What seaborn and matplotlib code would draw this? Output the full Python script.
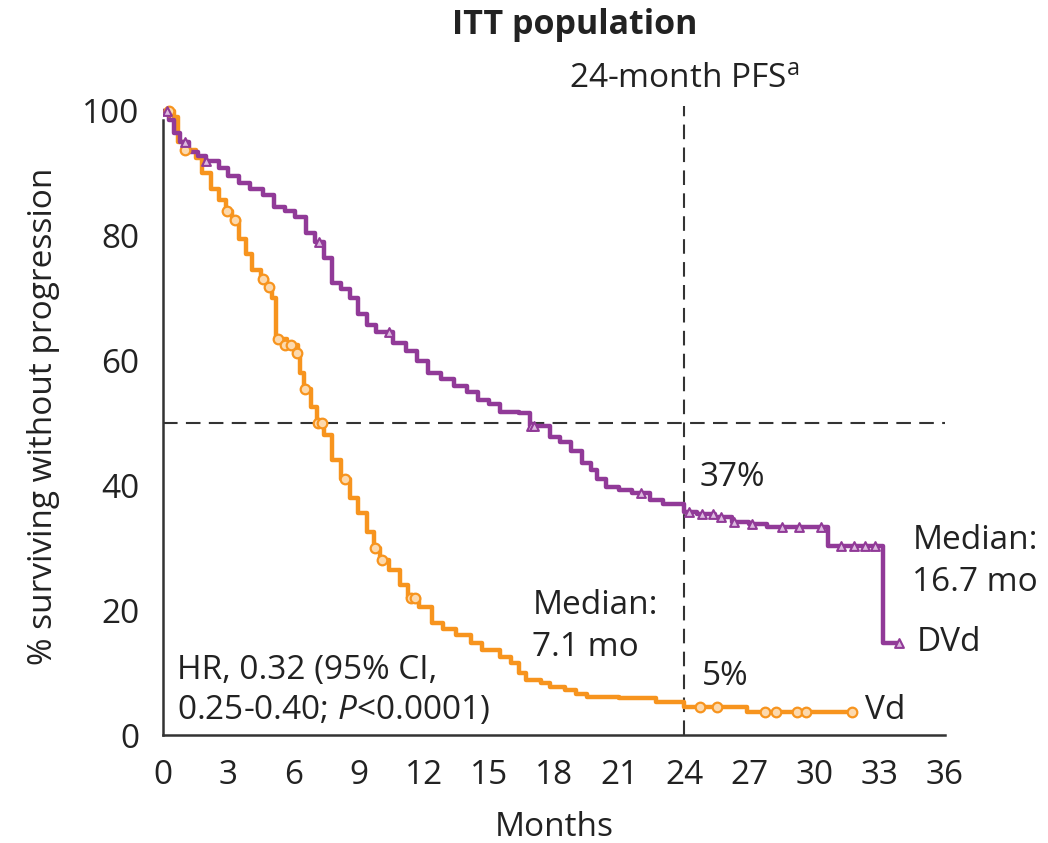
import matplotlib
matplotlib.use("Agg")
import matplotlib.pyplot as plt
import seaborn as sns
import pandas as pd

# ---------------- data ----------------
vd_time = [0, 0.5, 0.7, 1.1, 1.5, 1.8, 2.2, 2.6, 2.9, 3.2, 3.5, 3.8, 4.1, 4.5, 4.8, 5.0, 5.2, 5.7, 6.2, 6.3,
           6.5, 6.8, 7.1, 7.4, 7.8, 8.2, 8.6, 9.0, 9.4, 9.7, 10.0, 10.4, 10.9, 11.3, 11.8, 12.4, 12.9, 13.5,
           14.2, 14.7, 15.5, 16.0, 16.4, 16.7, 17.4, 17.8, 18.5, 19.0, 19.5, 21.0, 22.7, 24.0, 26.9, 31.7]
vd_surv = [100, 99, 95, 93.7, 92.5, 90, 87.5, 85.7, 84, 82.5, 79.5, 77, 74.5, 73, 71.8, 70, 63.5, 62.5, 61.2, 58,
           55.5, 52.5, 50, 48, 44, 41, 38, 35.5, 32.5, 30, 28, 26.5, 24, 22, 20.5, 18, 17, 16,
           14.8, 13.6, 12.5, 11.5, 10, 8.8, 8.3, 7.7, 7.2, 6.6, 6.1, 5.9, 5.3, 4.5, 3.7, 3.7]

dvd_time = [0, 0.3, 0.5, 0.8, 1.2, 1.6, 2.0, 2.6, 3.0, 3.5, 4.0, 4.6, 5.1, 5.6, 6.1, 6.6, 7.0, 7.4, 7.8, 8.2,
            8.6, 9.0, 9.4, 9.8, 10.6, 11.2, 11.7, 12.2, 12.8, 13.4, 14.0, 14.5, 15.0, 15.5, 16.4, 16.9, 17.8,
            18.3, 18.8, 19.3, 19.7, 20.0, 20.4, 21.0, 21.6, 22.4, 23.0, 24.0, 24.6, 25.4, 26.2, 27.0, 27.8,
            30.6, 33.15, 33.9]
dvd_surv = [100, 98.5, 96.5, 95, 93.5, 92.8, 92, 90.8, 89.5, 88.5, 87.5, 86.5, 84.6, 84, 83, 80.4, 79, 76.5, 72.4, 71.5,
            70, 67.5, 65.7, 64.5, 62.8, 61.5, 60, 58, 57, 56, 55, 53.7, 53, 51.8, 51.6, 49.5, 47.8,
            47, 45.5, 43.6, 42.5, 41, 39.7, 39.2, 38.7, 37.7, 37, 35.7, 35.4, 35, 34.1, 33.8, 33.3,
            30.3, 14.7, 14.7]

vd_cens_time = [0.3, 1.0, 2.95, 3.3, 4.6, 4.9, 5.3, 5.6, 5.9, 6.15, 6.55, 7.15, 7.3, 8.4, 9.75, 10.1,
                11.4, 11.6, 24.7, 25.5, 27.7, 28.2, 29.2, 29.6, 31.7]
vd_cens_surv = [100, 93.7, 84, 82.5, 73, 71.8, 63.5, 62.5, 62.5, 61.2, 55.5, 50, 50, 41, 30, 28,
                22, 22, 4.5, 4.5, 3.7, 3.7, 3.7, 3.7, 3.7]

dvd_cens_time = [0.2, 1.0, 2.0, 7.2, 10.4, 16.95, 17.1, 22.0, 24.2, 24.8, 25.3, 25.7, 26.3, 27.1, 28.5,
                 29.3, 30.3, 31.2, 31.8, 32.3, 32.8, 33.9]
dvd_cens_surv = [100, 95, 92, 79, 64.5, 49.5, 49.5, 38.7, 35.7, 35.4, 35.4, 35, 34.1, 33.8, 33.3,
                 33.3, 33.3, 30.3, 30.3, 30.3, 30.3, 14.7]

x_ticks = [0, 3, 6, 9, 12, 15, 18, 21, 24, 27, 30, 33, 36]
y_ticks = [0, 20, 40, 60, 80, 100]

# ---------------- style ----------------
sns.set_theme(style="white")
plt.rcParams['font.family'] = ['Open Sans', 'DejaVu Sans']
plt.rcParams['mathtext.fontset'] = 'custom'
plt.rcParams['mathtext.rm'] = 'Open Sans'
plt.rcParams['mathtext.it'] = 'Open Sans:italic'

ORANGE = '#F7941E'
PURPLE = '#913A98'
DARK = '#333333'
FS = 24

fig = plt.figure(figsize=(10.48, 8.43), dpi=100)
ax = fig.add_axes([0.1555, 0.1281, 0.7462, 0.7551])

vd_df = pd.DataFrame({'t': vd_time, 's': vd_surv})
dvd_df = pd.DataFrame({'t': dvd_time, 's': dvd_surv})

sns.lineplot(data=vd_df, x='t', y='s', ax=ax, color=ORANGE, lw=3.2, drawstyle='steps-post',
             estimator=None, sort=False, zorder=3)
sns.lineplot(data=dvd_df, x='t', y='s', ax=ax, color=PURPLE, lw=3.2, drawstyle='steps-post',
             estimator=None, sort=False, zorder=4)

ax.scatter(vd_cens_time, vd_cens_surv, marker='o', s=48, facecolors='#FCD9AE', edgecolors=ORANGE,
           linewidths=1.6, zorder=5)
ax.scatter(dvd_cens_time, dvd_cens_surv, marker='^', s=40, facecolors='#DDBBE0', edgecolors=PURPLE,
           linewidths=1.5, zorder=6)

# reference lines
ax.plot([0, 36], [50, 50], color=DARK, lw=1.5, ls=(0, (7, 4)), zorder=2)
ax.plot([24, 24], [0, 100.8], color=DARK, lw=1.5, ls=(0, (7, 4)), zorder=2, clip_on=False)

ax.set_xlim(0, 36)
ax.set_ylim(0, 102)
ax.set_xticks(x_ticks)
ax.set_yticks(y_ticks)
ax.set_xticklabels([str(v) for v in x_ticks])
ax.set_yticklabels([str(v) for v in y_ticks])

for side in ['top', 'right']:
    ax.spines[side].set_visible(False)
for side in ['left', 'bottom']:
    ax.spines[side].set_color(DARK)
    ax.spines[side].set_linewidth(1.8)
ax.spines['left'].set_bounds(0, 98.5)
ax.tick_params(axis='both', direction='out', length=12, width=1.8, color=DARK,
               labelsize=FS, labelcolor='#222222', pad=5)
ax.tick_params(axis='y', pad=5)

ax.set_xlabel('Months', fontsize=FS, color='#222222', labelpad=14)
ax.set_ylabel('% surviving without progression', fontsize=FS, color='#222222', labelpad=16)

# annotations
tc = '#222222'
ax.text(24.7, 41.3, '37%', fontsize=FS, color=tc, ha='left', va='center')
ax.text(24.8, 9.4, '5%', fontsize=FS, color=tc, ha='left', va='center')
ax.text(17.0, 20.8, 'Median:', fontsize=FS, color=tc, ha='left', va='center')
ax.text(17.0, 14.1, '7.1 mo', fontsize=FS, color=tc, ha='left', va='center')
ax.text(34.5, 31.2, 'Median:', fontsize=FS, color=tc, ha='left', va='center', clip_on=False)
ax.text(34.5, 24.4, '16.7 mo', fontsize=FS, color=tc, ha='left', va='center', clip_on=False)
ax.text(34.7, 14.9, 'DVd', fontsize=FS, color=tc, ha='left', va='center', clip_on=False)
ax.text(32.3, 4.0, 'Vd', fontsize=FS, color=tc, ha='left', va='center', clip_on=False)
ax.text(0.65, 10.4, 'HR, 0.32 (95% CI,', fontsize=FS, color=tc, ha='left', va='center')
ax.text(0.65, 4.0, r'0.25-0.40; $\it{P}$<0.0001)', fontsize=FS, color=tc, ha='left', va='center')
ax.text(18.7, 105.0, r'24-month PFS$^{\mathrm{a}}$', fontsize=FS, color=tc, ha='left', va='center',
        clip_on=False)

fig.text(0.548, 0.970, 'ITT population', fontsize=FS + 0.5, fontweight='bold', color=tc,
         ha='center', va='center')

fig.savefig('out.png', dpi=100)
